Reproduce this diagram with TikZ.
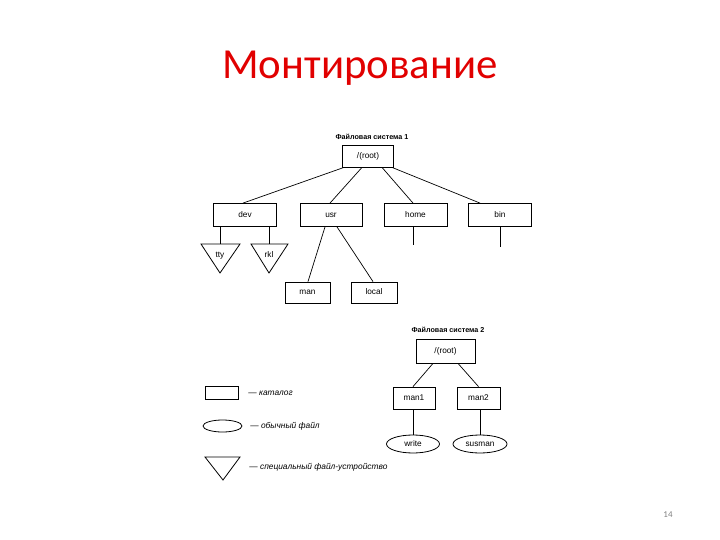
\documentclass[tikz,border=0pt]{standalone}
\usepackage{fontspec}
\setmainfont{Liberation Sans}
\newfontfamily\titlefont{Carlito}
\usetikzlibrary{shapes.geometric}
\definecolor{titlered}{RGB}{225,0,0}
\begin{document}
\begin{tikzpicture}[x=1bp,y=-1bp,
  line width=0.8bp,
  lbl/.style={text height=6bp,text depth=1.5bp,font=\fontsize{8.3}{9}\selectfont},
  dirbox/.style={draw,rectangle,inner sep=0pt,text height=6bp,text depth=1.5bp,font=\fontsize{8.3}{9}\selectfont},
  filell/.style={draw,ellipse,inner sep=0pt,text height=6bp,text depth=1.5bp,font=\fontsize{8.3}{9}\selectfont},
  fstitle/.style={font=\bfseries\fontsize{7.2}{8}\selectfont},
  legtxt/.style={anchor=west,inner sep=0pt,font=\itshape\fontsize{8.4}{9}\selectfont},
  link/.style={draw,line width=0.7bp}]
\useasboundingbox (0,0) rectangle (720,540);
% title
\node[text=titlered,font=\titlefont\fontsize{43}{46}\selectfont] (title) at (360,68) {Монтирование};
\node[text=gray,font=\titlefont\fontsize{9}{10}\selectfont] (pnum) at (668,515) {14};

% file system 1
\node[fstitle] (fs1) at (372,137) {Файловая система 1};
\node[dirbox,minimum width=51bp,minimum height=22bp] (root1) at (368,156) {/(root)};
\node[dirbox,minimum width=63bp,minimum height=23bp] (dev) at (245,215) {dev};
\node[dirbox,minimum width=62bp,minimum height=23bp] (usr) at (331,215) {usr};
\node[dirbox,minimum width=63bp,minimum height=23bp] (home) at (415.5,215) {home};
\node[dirbox,minimum width=63bp,minimum height=23bp] (bin) at (500,215) {bin};
\node[dirbox,minimum width=45bp,minimum height=21bp] (man) at (307.5,292.5) {man};
\node[dirbox,minimum width=46bp,minimum height=21bp] (local) at (374,292.5) {local};

% device triangles
\draw (201,244) -- (240,244) -- (220,273) -- cycle;
\draw (251,244) -- (288,244) -- (269,273) -- cycle;
\coordinate (ttytop) at (220,244);
\coordinate (rkltop) at (269,244);
\node[lbl] (tty) at (220,255) {tty};
\node[lbl] (rkl) at (269,255) {rkl};

\coordinate (homeend) at (413,245);
\coordinate (binend) at (500,247);

\draw[link] ([xshift=-24bp]root1.south) -- ([xshift=-2bp]dev.north);
\draw[link] ([xshift=-6bp]root1.south) -- ([xshift=-1bp]usr.north);
\draw[link] ([xshift=14bp]root1.south) -- ([xshift=-2.5bp]home.north);
\draw[link] ([xshift=24bp]root1.south) -- ([xshift=-20bp]bin.north);
\draw[link] (dev.south -| ttytop) -- (ttytop);
\draw[link] (dev.south -| rkltop) -- (rkltop);
\draw[link] (home.south -| homeend) -- (homeend);
\draw[link] (bin.south -| binend) -- (binend);
\draw[link] ([xshift=-6bp]usr.south) -- ([xshift=0.5bp]man.north);
\draw[link] ([xshift=6bp]usr.south) -- ([xshift=-1bp]local.north);

% file system 2
\node[fstitle] (fs2) at (448,330) {Файловая система 2};
\node[dirbox,minimum width=59bp,minimum height=24bp] (root2) at (445.5,351) {/(root)};
\node[dirbox,minimum width=42bp,minimum height=22bp] (man1) at (414,398) {man1};
\node[dirbox,minimum width=43bp,minimum height=22bp] (man2) at (478.5,398) {man2};
\node[filell,minimum width=53bp,minimum height=18bp] (write) at (413,444) {write};
\node[filell,minimum width=54bp,minimum height=18bp] (susman) at (480,444) {susman};
\draw[link] ([xshift=-12.5bp]root2.south) -- ([xshift=-1bp]man1.north);
\draw[link] ([xshift=12.5bp]root2.south) -- ([xshift=0bp]man2.north);
\draw[link] (man1.south -| write.north) -- (write.north);
\draw[link] (man2.south -| susman.north) -- (susman.north);

% legend
\node[draw,rectangle,minimum width=33bp,minimum height=13bp,inner sep=0pt] (legdir) at (221.5,392.5) {};
\node[draw,ellipse,minimum width=39bp,minimum height=12bp,inner sep=0pt] (legfile) at (222.5,426) {};
\draw (205,457) -- (240,457) -- (223,480) -- cycle;
\node[legtxt] (t1) at (248,393) {— каталог};
\node[legtxt] (t2) at (250,426) {— обычный файл};
\node[legtxt] (t3) at (249,467) {— специальный файл-устройство};
\end{tikzpicture}
\end{document}
